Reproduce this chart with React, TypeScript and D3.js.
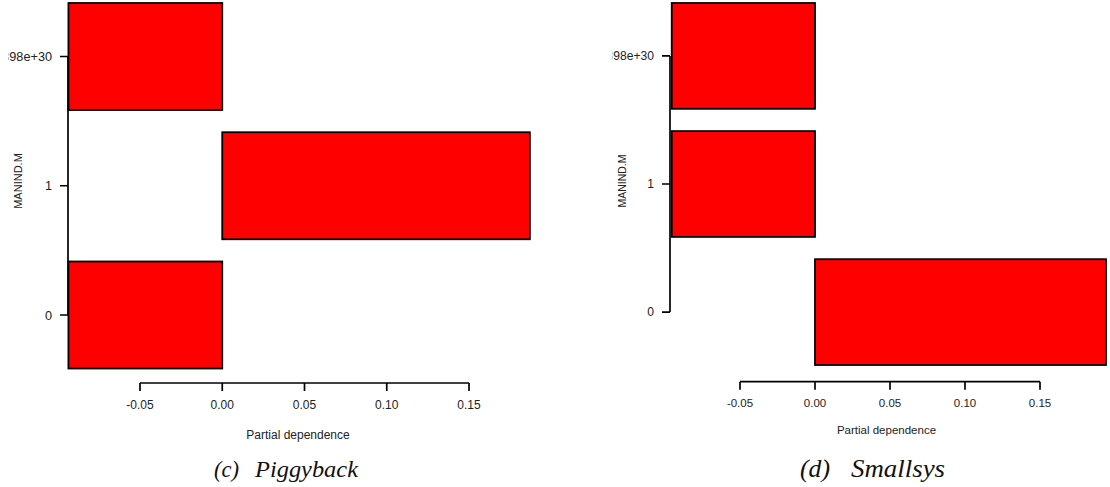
import React from "react";
import * as d3 from "d3";

// categories listed from top to bottom, as drawn
const categories = ["3.398e+30", "1", "0"];
const piggybackValues = [-0.0935, 0.187, -0.0935];
const smallsysValues = [-0.0955, -0.0955, 0.194];
const xTicks = [-0.05, 0.0, 0.05, 0.1, 0.15];
const xTickLabels = ["-0.05", "0.00", "0.05", "0.10", "0.15"];
const yTitle = "MANIND.M";
const xTitle = "Partial dependence";

type PanelProps = {
  values: number[];
  xRange: [number, number];
  yRange: [number, number];
  pad: number;
  yAxisX: number;
  xAxisY: number;
  tickLen: number;
  xLabelY: number;
  xLabelSize: number;
  yLabelSize: number;
  xTitleX: number;
  xTitleY: number;
  xTitleSize: number;
  yTitleX: number;
  yTitleY: number;
  yTitleSize: number;
  capA: string;
  capAX: number;
  capALen: number;
  capB: string;
  capBX: number;
  capBLen: number;
  capSize: number;
  capY: number;
  clipX: number;
  clipId: string;
};

function Panel(p: PanelProps) {
  const x = d3.scaleLinear().domain([-0.05, 0.15]).range(p.xRange);
  const y = d3
    .scaleBand<string>()
    .domain(categories)
    .range(p.yRange)
    .paddingInner(p.pad)
    .paddingOuter(0);
  const bw = y.bandwidth();
  const centers = categories.map((c) => (y(c) as number) + bw / 2);
  const sans = "'Liberation Sans', Arial, sans-serif";
  const serif = "'Liberation Serif', 'Times New Roman', serif";
  const lw = 1.7;
  return (
    <g>
      <defs>
        <clipPath id={p.clipId}>
          <rect x={p.clipX} y={0} width={600} height={487} />
        </clipPath>
      </defs>
      <g clipPath={`url(#${p.clipId})`}>
        {/* y axis */}
        <line
          x1={p.yAxisX}
          x2={p.yAxisX}
          y1={d3.min(centers)}
          y2={d3.max(centers)}
          stroke="#000"
          strokeWidth={lw}
        />
        {categories.map((c, i) => (
          <g key={c}>
            <line
              x1={p.yAxisX - p.tickLen}
              x2={p.yAxisX}
              y1={centers[i]}
              y2={centers[i]}
              stroke="#000"
              strokeWidth={lw}
            />
            <text
              x={p.yAxisX - p.tickLen - 8}
              y={centers[i]}
              dy="0.36em"
              textAnchor="end"
              fontFamily={sans}
              fontSize={p.yLabelSize}
              fill="#222"
            >
              {c}
            </text>
          </g>
        ))}
        {/* bars */}
        {categories.map((c, i) => {
          const v = p.values[i];
          const x0 = x(Math.min(0, v));
          const x1 = x(Math.max(0, v));
          return (
            <rect
              key={c}
              x={x0}
              y={y(c)}
              width={x1 - x0}
              height={bw}
              fill="#ff0000"
              stroke="#000"
              strokeWidth={1.8}
            />
          );
        })}
        {/* x axis */}
        <line
          x1={x(xTicks[0])}
          x2={x(xTicks[xTicks.length - 1])}
          y1={p.xAxisY}
          y2={p.xAxisY}
          stroke="#000"
          strokeWidth={lw}
        />
        {xTicks.map((t, i) => (
          <g key={t}>
            <line
              x1={x(t)}
              x2={x(t)}
              y1={p.xAxisY}
              y2={p.xAxisY + p.tickLen}
              stroke="#000"
              strokeWidth={lw}
            />
            <text
              x={x(t)}
              y={p.xLabelY}
              textAnchor="middle"
              fontFamily={sans}
              fontSize={p.xLabelSize}
              fill="#222"
            >
              {xTickLabels[i]}
            </text>
          </g>
        ))}
        <text
          x={p.xTitleX}
          y={p.xTitleY}
          textAnchor="middle"
          fontFamily={sans}
          fontSize={p.xTitleSize}
          fill="#222"
        >
          {xTitle}
        </text>
        <text
          transform={`translate(${p.yTitleX},${p.yTitleY}) rotate(-90)`}
          textAnchor="middle"
          fontFamily={sans}
          fontSize={p.yTitleSize}
          fill="#222"
        >
          {yTitle}
        </text>
        <text
          x={p.capAX}
          y={p.capY}
          fontFamily={serif}
          fontStyle="italic"
          fontSize={p.capSize}
          fill="#111"
          textLength={p.capALen}
          lengthAdjust="spacingAndGlyphs"
        >
          {p.capA}
        </text>
        <text
          x={p.capBX}
          y={p.capY}
          fontFamily={serif}
          fontStyle="italic"
          fontSize={p.capSize}
          fill="#111"
          textLength={p.capBLen}
          lengthAdjust="spacingAndGlyphs"
        >
          {p.capB}
        </text>
      </g>
    </g>
  );
}

export default function App() {
  return (
    <svg
      width={1110}
      height={487}
      style={{ position: "absolute", left: 0, top: 0, background: "#fff" }}
    >
      <rect x={0} y={0} width={1110} height={487} fill="#fff" />
      <Panel
        values={piggybackValues}
        xRange={[140, 469]}
        yRange={[3, 368.5]}
        pad={0.172}
        yAxisX={68}
        xAxisY={383}
        tickLen={8}
        xLabelY={409.3}
        xLabelSize={12}
        yLabelSize={12.7}
        xTitleX={298}
        xTitleY={439}
        xTitleSize={12}
        yTitleX={21.5}
        yTitleY={181}
        yTitleSize={11}
        capA="(c)"
        capAX={214}
        capALen={25}
        capB="Piggyback"
        capBX={255}
        capBLen={103}
        capSize={23}
        capY={477}
        clipX={8.5}
        clipId="clipL"
      />
      <Panel
        values={smallsysValues}
        xRange={[740, 1040]}
        yRange={[3, 365]}
        pad={0.174}
        yAxisX={670}
        xAxisY={381.7}
        tickLen={8}
        xLabelY={407.3}
        xLabelSize={11.5}
        yLabelSize={12.1}
        xTitleX={886.5}
        xTitleY={434}
        xTitleSize={11.5}
        yTitleX={626}
        yTitleY={181}
        yTitleSize={10.5}
        capA="(d)"
        capAX={800}
        capALen={30}
        capB="Smallsys"
        capBX={851}
        capBLen={94}
        capSize={25}
        capY={477}
        clipX={612.5}
        clipId="clipR"
      />
    </svg>
  );
}
